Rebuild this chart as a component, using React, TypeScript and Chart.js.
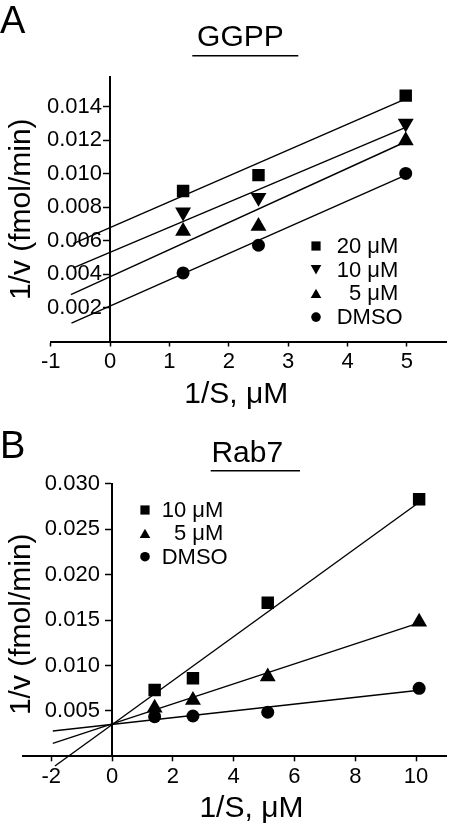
import React, { useEffect, useRef } from 'react';
import { Chart, registerables } from 'chart.js';

Chart.register(...registerables);

const FONT = "'Liberation Sans', Arial, Helvetica, sans-serif";

// ---------------- Panel A : GGPP ----------------
const A_TITLE = 'GGPP';
const A_X_TITLE = '1/S, μM';
const A_Y_TITLE = '1/v (fmol/min)';
const A_X_TICKS = [-1, 0, 1, 2, 3, 4, 5];
const A_Y_TICKS = [0.002, 0.004, 0.006, 0.008, 0.01, 0.012, 0.014];
const A_X = [1.23, 2.5, 4.98];
const A_LABELS = ['20 μM', '10 μM', '  5 μM', 'DMSO'];
const A_20 = [0.00897, 0.00992, 0.01466];
const A_10 = [0.00771, 0.00858, 0.01301];
const A_5 = [0.00658, 0.00687, 0.01198];
const A_DMSO = [0.00409, 0.00574, 0.01002];
// fitted lines (start, end)
const A_FIT_20_X = [-0.62, 4.98];
const A_FIT_20_Y = [0.00584, 0.01447];
const A_FIT_10_X = [-0.62, 4.98];
const A_FIT_10_Y = [0.00439, 0.01277];
const A_FIT_5_X = [-0.66, 4.98];
const A_FIT_5_Y = [0.0028, 0.01191];
const A_FIT_DMSO_X = [-0.65, 4.98];
const A_FIT_DMSO_Y = [0.0011, 0.00992];

// ---------------- Panel B : Rab7 ----------------
const B_TITLE = 'Rab7';
const B_X_TITLE = '1/S, μM';
const B_Y_TITLE = '1/v (fmol/min)';
const B_X_TICKS = [-2, 0, 2, 4, 6, 8, 10];
const B_Y_TICKS = [0.005, 0.01, 0.015, 0.02, 0.025, 0.03];
const B_X = [1.4, 2.66, 5.12, 10.1];
const B_LABELS = ['10 μM', '  5 μM', 'DMSO'];
const B_10 = [0.0073, 0.00859, 0.01692, 0.0283];
const B_5 = [0.00532, 0.00618, 0.00877, 0.0148];
const B_DMSO = [0.00436, 0.00444, 0.00485, 0.00749];
const B_FIT_10_X = [-1.88, 10.08];
const B_FIT_10_Y = [-0.00107, 0.02793];
const B_FIT_5_X = [-1.95, 10.1];
const B_FIT_5_Y = [0.00143, 0.0147];
const B_FIT_DMSO_X = [-1.95, 10.1];
const B_FIT_DMSO_Y = [0.00279, 0.00727];

type Series = {
  label: string;
  ys: number[];
  style: string;
  rotation: number;
  radius: number;
  fitX: number[];
  fitY: number[];
};

type Panel = {
  top: number;
  title: string;
  titlePad: { top: number; bottom: number };
  xTitle: string;
  yTitle: string;
  xTicks: number[];
  yTicks: number[];
  xMin: number;
  xMax: number;
  yMax: number;
  labelAxisX: number;
  chartLeft: number;
  xAxisHeight: number;
  xTitlePadBottom: number;
  xs: number[];
  series: Series[];
  legend: { x: number; y: number; row: number; textX: number };
  underline: { x1: number; x2: number; y: number };
};

const SQ = 8.8;
const TRI = 9.2;
const CIR = 6.5;

const PANEL_A: Panel = {
  top: 0,
  title: A_TITLE + '  ',
  titlePad: { top: 20, bottom: 21 },
  xTitle: A_X_TITLE + '   ',
  yTitle: A_Y_TITLE,
  xTicks: A_X_TICKS,
  yTicks: A_Y_TICKS,
  xMin: -1,
  xMax: 5.672,
  yMax: 0.01577,
  labelAxisX: -0.135,
  chartLeft: 50.7,
  xAxisHeight: 73.5,
  xTitlePadBottom: 2,
  xs: A_X,
  series: [
    { label: A_LABELS[0], ys: A_20, style: 'rect', rotation: 0, radius: SQ, fitX: A_FIT_20_X, fitY: A_FIT_20_Y },
    { label: A_LABELS[1], ys: A_10, style: 'triangle', rotation: 180, radius: TRI, fitX: A_FIT_10_X, fitY: A_FIT_10_Y },
    { label: A_LABELS[2], ys: A_5, style: 'triangle', rotation: 0, radius: TRI, fitX: A_FIT_5_X, fitY: A_FIT_5_Y },
    { label: A_LABELS[3], ys: A_DMSO, style: 'circle', rotation: 0, radius: CIR, fitX: A_FIT_DMSO_X, fitY: A_FIT_DMSO_Y },
  ],
  legend: { x: 316, y: 246, row: 23.7, textX: 336.7 },
  underline: { x1: 192.3, x2: 298.3, y: 55.7 },
};

const PANEL_B: Panel = {
  top: 415,
  title: '   ' + B_TITLE,
  titlePad: { top: 21, bottom: 11.9 },
  xTitle: '    ' + B_X_TITLE,
  yTitle: B_Y_TITLE + ' ',
  xTicks: B_X_TICKS,
  yTicks: B_Y_TICKS,
  xMin: -2.94,
  xMax: 11.01,
  yMax: 0.03,
  labelAxisX: -0.4,
  chartLeft: 22.7,
  xAxisHeight: 73.7,
  xTitlePadBottom: 3.5,
  xs: B_X,
  series: [
    { label: B_LABELS[0], ys: B_10, style: 'rect', rotation: 0, radius: SQ, fitX: B_FIT_10_X, fitY: B_FIT_10_Y },
    { label: B_LABELS[1], ys: B_5, style: 'triangle', rotation: 0, radius: TRI, fitX: B_FIT_5_X, fitY: B_FIT_5_Y },
    { label: B_LABELS[2], ys: B_DMSO, style: 'circle', rotation: 0, radius: CIR, fitX: B_FIT_DMSO_X, fitY: B_FIT_DMSO_Y },
  ],
  legend: { x: 145, y: 95, row: 23.35, textX: 161.7 },
  underline: { x1: 210.7, x2: 300, y: 55.7 },
};

function drawMarker(ctx: CanvasRenderingContext2D, style: string, rotation: number, x: number, y: number) {
  ctx.beginPath();
  if (style === 'rect') {
    ctx.rect(x - 4.6, y - 4.6, 9.2, 9.2);
  } else if (style === 'triangle') {
    const w = 5.3;
    const h = 9.4;
    if (rotation === 180) {
      ctx.moveTo(x - w, y - h / 2);
      ctx.lineTo(x + w, y - h / 2);
      ctx.lineTo(x, y + h / 2);
    } else {
      ctx.moveTo(x - w, y + h / 2);
      ctx.lineTo(x + w, y + h / 2);
      ctx.lineTo(x, y - h / 2);
    }
    ctx.closePath();
  } else {
    ctx.arc(x, y, 4.8, 0, Math.PI * 2);
  }
  ctx.fill();
}

const insetLegend = {
  id: 'insetLegend',
  afterDatasetsDraw(chart: any, _args: any, opts: any) {
    if (!opts || opts.x == null) return;
    const ctx: CanvasRenderingContext2D = chart.ctx;
    const items = chart.data.datasets.filter((d: any) => !d.showLine);
    ctx.save();
    ctx.fillStyle = '#000';
    ctx.font = `22px ${FONT}`;
    ctx.textBaseline = 'middle';
    ctx.textAlign = 'left';
    items.forEach((d: any, i: number) => {
      const y = opts.y + i * opts.row;
      drawMarker(ctx, d.pointStyle, d.pointRotation || 0, opts.x, y);
      ctx.fillText(d.label, opts.textX, y + 1);
    });
    ctx.restore();
  },
};

const titleUnderline = {
  id: 'titleUnderline',
  afterDraw(chart: any, _args: any, opts: any) {
    if (!opts || opts.x1 == null) return;
    const ctx: CanvasRenderingContext2D = chart.ctx;
    ctx.save();
    ctx.strokeStyle = '#000';
    ctx.lineWidth = 1.6;
    ctx.beginPath();
    ctx.moveTo(opts.x1, opts.y);
    ctx.lineTo(opts.x2, opts.y);
    ctx.stroke();
    ctx.restore();
  },
};

function buildConfig(p: Panel): any {
  const pointSets = p.series.map((s) => ({
    label: s.label,
    data: p.xs.map((x, i) => ({ x, y: s.ys[i] })),
    pointStyle: s.style,
    pointRotation: s.rotation,
    pointRadius: s.radius,
    pointHoverRadius: s.radius,
    backgroundColor: '#000',
    borderColor: '#000',
    pointBorderWidth: 0,
    showLine: false,
  }));
  const lineSets = p.series.map((s) => ({
    label: s.label.trim() + ' fit',
    data: s.fitX.map((x, i) => ({ x, y: s.fitY[i] })),
    showLine: true,
    pointRadius: 0,
    pointHoverRadius: 0,
    borderColor: '#000',
    backgroundColor: '#000',
    borderWidth: 1.4,
    clip: false,
  }));
  const tickFont = { family: FONT, size: 22 };
  const titleFont = { family: FONT, size: 30, weight: 'normal' as const };
  const yTickSetter = (s: any) => {
    s.ticks = p.yTicks.map((v) => ({ value: v }));
  };
  return {
    type: 'scatter',
    data: { datasets: [...pointSets, ...lineSets] },
    plugins: [insetLegend, titleUnderline],
    options: {
      animation: false,
      responsive: false,
      devicePixelRatio: 1,
      events: [],
      layout: { padding: { left: 0, right: 2, top: 0, bottom: 0 } },
      plugins: {
        legend: { display: false },
        tooltip: { enabled: false },
        title: {
          display: true,
          text: p.title,
          fullSize: false,
          color: '#000',
          font: titleFont,
          padding: p.titlePad,
        },
        insetLegend: p.legend,
        titleUnderline: p.underline,
      },
      scales: {
        x: {
          type: 'linear',
          position: 'bottom',
          min: p.xMin,
          max: p.xMax,
          afterBuildTicks: (s: any) => {
            s.ticks = p.xTicks.map((v) => ({ value: v }));
          },
          afterFit: (s: any) => {
            s.height = p.xAxisHeight;
          },
          border: { display: true, color: '#000', width: 2 },
          grid: {
            display: true,
            drawOnChartArea: false,
            drawTicks: true,
            tickLength: 5,
            tickWidth: 1.5,
            tickColor: '#000',
            color: '#000',
          },
          ticks: {
            color: '#000',
            font: tickFont,
            padding: 2,
            maxRotation: 0,
            autoSkip: false,
            callback: (v: any) => String(v),
          },
          title: {
            display: true,
            text: p.xTitle,
            color: '#000',
            font: titleFont,
            padding: { top: 0, bottom: p.xTitlePadBottom },
          },
        },
        // axis line and tick marks at x = 0
        y: {
          type: 'linear',
          position: { x: 0 },
          min: 0,
          max: p.yMax,
          afterBuildTicks: yTickSetter,
          border: { display: true, color: '#000', width: 2 },
          grid: {
            display: true,
            drawOnChartArea: false,
            drawTicks: true,
            tickLength: 6,
            tickWidth: 1.5,
            tickColor: '#000',
            color: '#000',
          },
          ticks: { display: false },
        },
        // tick labels, set just left of the axis line
        yLabels: {
          type: 'linear',
          position: { x: p.labelAxisX },
          min: 0,
          max: p.yMax,
          afterBuildTicks: yTickSetter,
          border: { display: false },
          grid: { display: false, drawTicks: false },
          ticks: {
            color: '#000',
            font: tickFont,
            autoSkip: false,
            callback: (v: any) => Number(v).toFixed(3),
          },
        },
        // y axis title on the left edge
        yTitle: {
          type: 'linear',
          position: 'left',
          display: true,
          afterFit: (s: any) => {
            s.width = p.chartLeft;
          },
          grid: { display: false, drawTicks: false },
          border: { display: false },
          ticks: { display: false },
          title: {
            display: true,
            text: p.yTitle,
            color: '#000',
            font: titleFont,
            padding: { top: 4, bottom: 0 },
          },
        },
      },
    },
  };
}

function PanelChart({ panel }: { panel: Panel }) {
  const ref = useRef<HTMLCanvasElement | null>(null);
  useEffect(() => {
    if (!ref.current) return;
    const chart = new Chart(ref.current, buildConfig(panel));
    return () => chart.destroy();
  }, [panel]);
  return (
    <canvas
      ref={ref}
      width={456}
      height={415}
      style={{ position: 'absolute', left: 0, top: panel.top, width: 456, height: 415, display: 'block' }}
    />
  );
}

export default function App() {
  return (
    <div
      style={{
        position: 'absolute',
        left: 0,
        top: 0,
        width: 456,
        height: 830,
        background: '#fff',
        fontFamily: FONT,
        color: '#000',
        overflow: 'hidden',
      }}
    >
      <PanelChart panel={PANEL_A} />
      <PanelChart panel={PANEL_B} />
      <div style={{ position: 'absolute', left: 0, top: 1, fontSize: 38, lineHeight: 1 }}>A</div>
      <div style={{ position: 'absolute', left: 0, top: 426, fontSize: 38, lineHeight: 1 }}>B</div>
    </div>
  );
}
